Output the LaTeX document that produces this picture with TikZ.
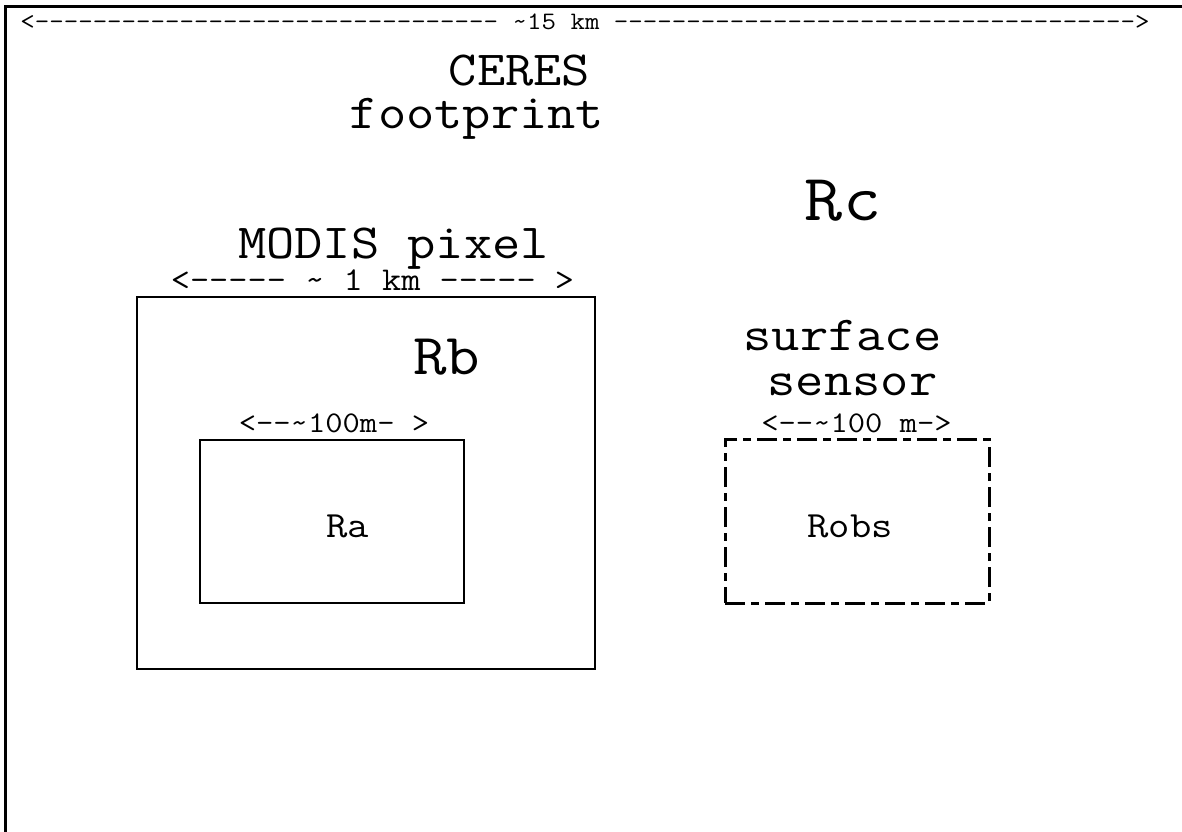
\documentclass[tikz,border=0pt]{standalone}
\usepackage{fontspec}
\setmonofont{Latin Modern Mono}[FakeStretch=1.12]
\begin{document}
\begin{tikzpicture}[x=1pt,y=-1pt,
  txt/.style={inner sep=0pt, anchor=base, font=\ttfamily\fontsize{#1}{#1}\selectfont},
  box/.style={draw, line width=2.9pt, inner sep=0pt},
  dbox/.style={draw, line width=3pt, inner sep=0pt, dash pattern=on 20pt off 6pt on 8pt off 6pt},
  frame/.style={line width=3pt}]
\useasboundingbox (0,0) rectangle (1182,831);
% frame (only top and left edges visible)
\coordinate (ftr) at (1190,6);
\coordinate (ftl) at (5.5,6);
\coordinate (fbl) at (5.5,840);
\draw[frame] (ftr) -- (ftl) -- (fbl);
% scale line
\node[txt=25.1] (scale) at (585,29) {<--------------------------------{} \textasciitilde15 km ------------------------------------>};
% CERES
\node[txt=49] (ceres) at (519.5,85) {CERES};
\node[txt=49] (foot) at (477,128) {footprint};
\node[txt=66] (rc) at (843,220) {Rc};
% MODIS
\node[txt=49] (modis) at (393.5,258) {MODIS pixel};
\node[txt=33.3] (km1) at (372.5,290) {<----- \textasciitilde{} 1 km ----- >};
\node[box, minimum width=458pt, minimum height=372pt] (rbbox) at (366,483) {};
\node[txt=58] (rb) at (446.5,374) {Rb};
\node[txt=30] (m100a) at (334,432) {<--\textasciitilde100m- >};
\node[box, minimum width=264pt, minimum height=163pt] (rabox) at (332,521.5) {};
\node[txt=37] (ra) at (347.5,537) {Ra};
% surface sensor
\node[txt=49] (surf) at (842.5,350) {surface};
\node[txt=49] (sens) at (852.5,395) {sensor};
\node[txt=30] (m100b) at (856.5,432) {<--\textasciitilde100 m->};
\node[dbox, minimum width=264pt, minimum height=164pt] (robsbox) at (857,521) {};
\node[txt=37] (robs) at (850,537) {Robs};
\end{tikzpicture}
\end{document}
